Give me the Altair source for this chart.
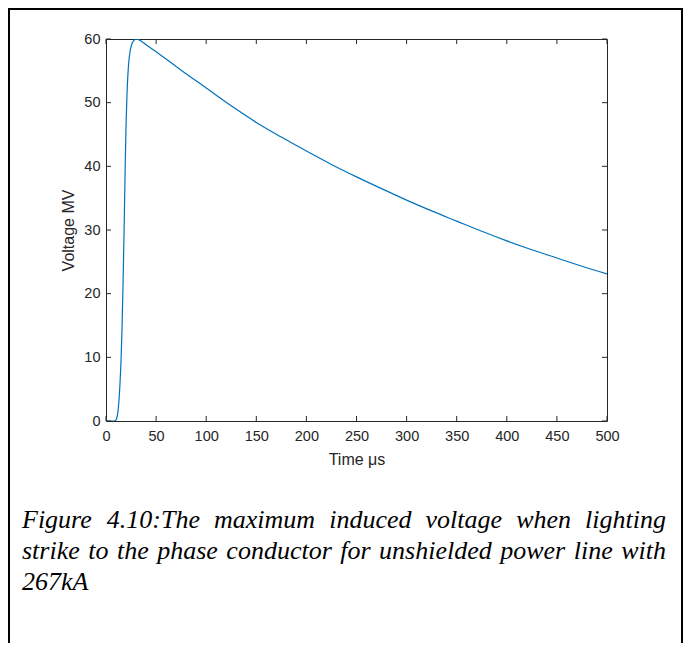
import altair as alt
import pandas as pd

# ---- data ----
time_us = [0, 5, 8, 9, 10, 11, 12, 13, 14, 15, 16, 17, 18, 19, 20, 21, 22, 23, 24, 25,
           26, 28, 30, 32, 35, 40, 50, 75, 100, 125, 150, 175, 200, 225, 250, 275, 300,
           325, 350, 375, 400, 425, 450, 475, 500]
voltage_mv = [0, 0, 0, 0.02, 0.15, 0.6, 1.6, 3.3, 6.0, 9.5, 14.5, 21.5, 29.5, 38.5, 46.5,
              51.5, 54.8, 56.8, 58.0, 58.8, 59.3, 59.8, 60.0, 59.95, 59.7, 59.1, 58.0, 55.1,
              52.3, 49.5, 46.9, 44.6, 42.4, 40.3, 38.35, 36.5, 34.7, 33.0, 31.4, 29.8, 28.3,
              26.9, 25.6, 24.3, 23.1]
x_ticks = [0, 50, 100, 150, 200, 250, 300, 350, 400, 450, 500]
y_ticks = [0, 10, 20, 30, 40, 50, 60]
caption_lines = [
    "Figure 4.10:The maximum induced voltage when lighting",
    "strike to the phase conductor for unshielded power line with",
    "267kA",
]

W, H = 501, 382
AX = "#262626"
FONT = "Liberation Sans"

xs = alt.Scale(domain=[0, 500], nice=False)
ys = alt.Scale(domain=[0, 60], nice=False)

df = pd.DataFrame({"t": time_us, "v": voltage_mv})

line = alt.Chart(df).mark_line(color="#0072BD", strokeWidth=1.2, interpolate="monotone", clip=True).encode(
    x=alt.X("t:Q", scale=xs, axis=alt.Axis(
        values=x_ticks, title="Time μs", grid=False, domain=False, ticks=False, tickSize=0,
        labelFlush=False, labelOverlap=False,
        labelFont=FONT, labelFontSize=14.5, labelColor=AX, labelPadding=8,
        titleFont=FONT, titleFontSize=16, titleFontWeight="normal", titleColor=AX, titlePadding=9)),
    y=alt.Y("v:Q", scale=ys, axis=alt.Axis(
        values=y_ticks, title="Voltage MV", grid=False, domain=False, ticks=False, tickSize=0,
        labelFlush=False, labelOverlap=False,
        labelFont=FONT, labelFontSize=14.5, labelColor=AX, labelPadding=6,
        titleFont=FONT, titleFontSize=16, titleFontWeight="normal", titleColor=AX, titlePadding=7)),
)

xt = pd.DataFrame({"t": x_ticks})
yt = pd.DataFrame({"v": y_ticks})
TL = 5
tick_bottom = alt.Chart(xt).mark_rule(color=AX, strokeWidth=1).encode(
    x=alt.X("t:Q", scale=xs), y=alt.value(H), y2=alt.value(H - TL))
tick_top = alt.Chart(xt).mark_rule(color=AX, strokeWidth=1).encode(
    x=alt.X("t:Q", scale=xs), y=alt.value(0), y2=alt.value(TL))
tick_left = alt.Chart(yt).mark_rule(color=AX, strokeWidth=1).encode(
    y=alt.Y("v:Q", scale=ys), x=alt.value(0), x2=alt.value(TL))
tick_right = alt.Chart(yt).mark_rule(color=AX, strokeWidth=1).encode(
    y=alt.Y("v:Q", scale=ys), x=alt.value(W), x2=alt.value(W - TL))

# ---- caption, justified word by word using Times italic advance widths ----
adv = {' ': 250, 'F': 611, 'i': 278, 'g': 500, 'u': 500, 'r': 389, 'e': 444, '4': 500,
       '.': 250, '1': 500, '0': 500, ':': 333, 'T': 556, 'h': 500, 'm': 722, 'a': 500,
       'x': 444, 'n': 500, 'd': 500, 'c': 444, 'v': 444, 'o': 500, 'l': 278, 't': 278,
       'w': 667, 's': 389, 'k': 444, 'p': 500, 'f': 278, '2': 500, '6': 500, '7': 500,
       'A': 611}
FS = 26
LEFT, RIGHT = 22 - 106, 666 - 106
baselines = [528 - 39, 559 - 39, 590 - 39]
rows = []
for li, text in enumerate(caption_lines):
    words = text.split(" ")
    widths = [sum(adv.get(c, 500) for c in w) * FS / 1000 for w in words]
    justify = li < len(caption_lines) - 1
    gap = (RIGHT - LEFT - sum(widths)) / (len(words) - 1) if justify and len(words) > 1 else adv[' '] * FS / 1000
    x = LEFT
    for w, wd in zip(words, widths):
        rows.append({"word": w, "px": x, "py": baselines[li]})
        x += wd + gap
cap = pd.DataFrame(rows)
caption = alt.Chart(cap).mark_text(
    align="left", baseline="alphabetic", font="Liberation Serif", fontStyle="italic",
    fontSize=FS, color="black").encode(
    x=alt.X("px:Q", scale=None, axis=None),
    y=alt.Y("py:Q", scale=None, axis=None),
    text="word:N")

# ---- outer frame ----
one = pd.DataFrame({"a": [0]})
frame_left = alt.Chart(one).mark_rule(color="black", strokeWidth=2).encode(
    x=alt.value(-97), y=alt.value(-31), y2=alt.value(604))
frame_right = alt.Chart(one).mark_rule(color="black", strokeWidth=2).encode(
    x=alt.value(576), y=alt.value(-31), y2=alt.value(604))
frame_top = alt.Chart(one).mark_rule(color="black", strokeWidth=2).encode(
    y=alt.value(-30), x=alt.value(-98), x2=alt.value(577))

chart = alt.layer(
    line, tick_bottom, tick_top, tick_left, tick_right, caption,
    frame_left, frame_right, frame_top
).properties(
    width=W, height=H,
    autosize=alt.AutoSizeParams(type="none"),
    padding={"left": 98, "top": 31, "right": 76, "bottom": 222},
    background="white",
).configure_view(stroke=AX, strokeWidth=1)

chart.save("out.html", embed_options={"renderer": "svg", "actions": False})
